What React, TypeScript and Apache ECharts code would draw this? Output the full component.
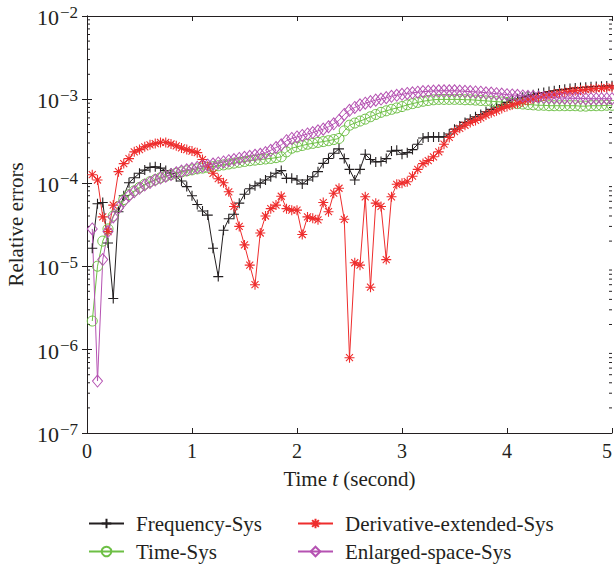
import React, { useEffect, useRef } from "react";
import * as echarts from "echarts";

const times: number[] = [
  0.05, 0.1, 0.15, 0.2, 0.25, 0.3, 0.35, 0.4, 0.45, 0.5,
  0.55, 0.6, 0.65, 0.7, 0.75, 0.8, 0.85, 0.9, 0.95, 1.0,
  1.05, 1.1, 1.15, 1.2, 1.25, 1.3, 1.35, 1.4, 1.45, 1.5,
  1.55, 1.6, 1.65, 1.7, 1.75, 1.8, 1.85, 1.9, 1.95, 2.0,
  2.05, 2.1, 2.15, 2.2, 2.25, 2.3, 2.35, 2.4, 2.45, 2.5,
  2.55, 2.6, 2.65, 2.7, 2.75, 2.8, 2.85, 2.9, 2.95, 3.0,
  3.05, 3.1, 3.15, 3.2, 3.25, 3.3, 3.35, 3.4, 3.45, 3.5,
  3.55, 3.6, 3.65, 3.7, 3.75, 3.8, 3.85, 3.9, 3.95, 4.0,
  4.05, 4.1, 4.15, 4.2, 4.25, 4.3, 4.35, 4.4, 4.45, 4.5,
  4.55, 4.6, 4.65, 4.7, 4.75, 4.8, 4.85, 4.9, 4.95, 5.0,
];

const frequencySys: number[] = [
  1.64e-5, 5.6e-5, 5.8e-5, 1.9e-5, 4.1e-6, 4.5e-5, 7.0e-5, 1.0e-4, 1.15e-4, 1.3e-4,
  1.42e-4, 1.53e-4, 1.56e-4, 1.5e-4, 1.4e-4, 1.3e-4, 1.18e-4, 1.05e-4, 9.0e-5, 7.0e-5,
  5.5e-5, 4.6e-5, 4.1e-5, 1.64e-5, 7.5e-6, 2.7e-5, 3.7e-5, 4.2e-5, 5.7e-5, 7.3e-5,
  8.5e-5, 9.2e-5, 9.9e-5, 1.08e-4, 1.18e-4, 1.3e-4, 1.4e-4, 1.13e-4, 1.13e-4, 1.08e-4,
  9.7e-5, 1.08e-4, 1.18e-4, 1.36e-4, 1.71e-4, 1.96e-4, 2.26e-4, 2.55e-4, 1.95e-4, 1.45e-4,
  1.08e-4, 1.45e-4, 2.2e-4, 1.9e-4, 1.78e-4, 1.8e-4, 1.95e-4, 2.4e-4, 2.45e-4, 2.2e-4,
  2.3e-4, 2.5e-4, 2.9e-4, 3.45e-4, 3.55e-4, 3.55e-4, 3.55e-4, 3.55e-4, 3.85e-4, 4.4e-4,
  4.8e-4, 5.3e-4, 5.8e-4, 6.2e-4, 6.6e-4, 7.1e-4, 7.6e-4, 8.1e-4, 8.6e-4, 9.2e-4,
  9.8e-4, 1.02e-3, 1.06e-3, 1.1e-3, 1.14e-3, 1.18e-3, 1.21e-3, 1.24e-3, 1.27e-3, 1.3e-3,
  1.32e-3, 1.35e-3, 1.37e-3, 1.39e-3, 1.4e-3, 1.42e-3, 1.43e-3, 1.44e-3, 1.45e-3, 1.46e-3,
];

const timeSys: number[] = [
  2.2e-6, 1.0e-5, 2.0e-5, 2.8e-5, 4.0e-5, 5.2e-5, 6.3e-5, 7.2e-5, 8.0e-5, 8.8e-5,
  9.6e-5, 1.03e-4, 1.09e-4, 1.15e-4, 1.2e-4, 1.25e-4, 1.3e-4, 1.35e-4, 1.39e-4, 1.43e-4,
  1.47e-4, 1.5e-4, 1.53e-4, 1.56e-4, 1.6e-4, 1.64e-4, 1.68e-4, 1.72e-4, 1.76e-4, 1.8e-4,
  1.84e-4, 1.87e-4, 1.9e-4, 1.93e-4, 1.96e-4, 2.0e-4, 2.05e-4, 2.35e-4, 2.6e-4, 2.7e-4,
  2.8e-4, 2.9e-4, 2.97e-4, 3.05e-4, 3.12e-4, 3.2e-4, 3.3e-4, 3.4e-4, 4.2e-4, 4.9e-4,
  5.2e-4, 5.5e-4, 5.8e-4, 6.2e-4, 6.6e-4, 7.0e-4, 7.3e-4, 7.6e-4, 7.9e-4, 8.2e-4,
  8.6e-4, 8.9e-4, 9.2e-4, 9.5e-4, 9.7e-4, 9.9e-4, 1.0e-3, 1.0e-3, 1.0e-3, 1.0e-3,
  1.0e-3, 9.9e-4, 9.9e-4, 9.8e-4, 9.7e-4, 9.6e-4, 9.5e-4, 9.4e-4, 9.3e-4, 9.2e-4,
  9.0e-4, 8.9e-4, 8.8e-4, 8.7e-4, 8.6e-4, 8.5e-4, 8.5e-4, 8.4e-4, 8.4e-4, 8.4e-4,
  8.4e-4, 8.4e-4, 8.4e-4, 8.3e-4, 8.3e-4, 8.4e-4, 8.4e-4, 8.4e-4, 8.5e-4, 8.5e-4,
];

const derivativeExtendedSys: number[] = [
  1.25e-4, 1.08e-4, 3.9e-5, 2.6e-5, 5.4e-5, 1.36e-4, 1.7e-4, 1.95e-4, 2.35e-4, 2.5e-4,
  2.7e-4, 2.85e-4, 2.95e-4, 3.05e-4, 3.05e-4, 2.92e-4, 2.78e-4, 2.62e-4, 2.5e-4, 2.4e-4,
  2.3e-4, 1.9e-4, 1.58e-4, 1.3e-4, 1.12e-4, 1.0e-4, 7.8e-5, 5.2e-5, 3.0e-5, 1.8e-5,
  1.03e-5, 6.0e-6, 2.5e-5, 4.0e-5, 4.9e-5, 5.4e-5, 6.9e-5, 4.9e-5, 4.7e-5, 4.7e-5,
  2.4e-5, 3.9e-5, 3.75e-5, 3.6e-5, 5.8e-5, 4.5e-5, 7.5e-5, 8.6e-5, 3.65e-5, 8.0e-7,
  1.1e-5, 1.03e-5, 6.8e-5, 5.6e-6, 5.7e-5, 5.2e-5, 1.2e-5, 6.8e-5, 9.6e-5, 9.9e-5,
  1.03e-4, 1.2e-4, 1.45e-4, 1.7e-4, 1.85e-4, 2.05e-4, 2.35e-4, 2.9e-4, 3.5e-4, 4.1e-4,
  4.5e-4, 4.9e-4, 5.3e-4, 5.6e-4, 6.0e-4, 6.5e-4, 6.9e-4, 7.3e-4, 7.8e-4, 8.2e-4,
  8.6e-4, 9.0e-4, 9.4e-4, 9.8e-4, 1.02e-3, 1.06e-3, 1.1e-3, 1.13e-3, 1.16e-3, 1.19e-3,
  1.22e-3, 1.25e-3, 1.27e-3, 1.29e-3, 1.31e-3, 1.33e-3, 1.35e-3, 1.36e-3, 1.38e-3, 1.4e-3,
];

const enlargedSpaceSys: number[] = [
  2.8e-5, 4.2e-7, 1.2e-5, 2.6e-5, 3.9e-5, 5.0e-5, 6.0e-5, 7.0e-5, 7.8e-5, 8.6e-5,
  9.4e-5, 1.01e-4, 1.08e-4, 1.14e-4, 1.2e-4, 1.26e-4, 1.32e-4, 1.38e-4, 1.43e-4, 1.48e-4,
  1.53e-4, 1.58e-4, 1.63e-4, 1.68e-4, 1.73e-4, 1.78e-4, 1.84e-4, 1.9e-4, 1.96e-4, 2.02e-4,
  2.08e-4, 2.14e-4, 2.2e-4, 2.3e-4, 2.45e-4, 2.65e-4, 2.85e-4, 3.2e-4, 3.4e-4, 3.55e-4,
  3.7e-4, 3.85e-4, 4.0e-4, 4.2e-4, 4.4e-4, 4.7e-4, 5.1e-4, 5.6e-4, 6.6e-4, 7.4e-4,
  8.0e-4, 8.6e-4, 9.0e-4, 9.4e-4, 9.8e-4, 1.01e-3, 1.05e-3, 1.09e-3, 1.12e-3, 1.15e-3,
  1.18e-3, 1.2e-3, 1.22e-3, 1.24e-3, 1.25e-3, 1.26e-3, 1.27e-3, 1.27e-3, 1.27e-3, 1.27e-3,
  1.26e-3, 1.25e-3, 1.24e-3, 1.23e-3, 1.22e-3, 1.2e-3, 1.19e-3, 1.17e-3, 1.16e-3, 1.14e-3,
  1.13e-3, 1.12e-3, 1.1e-3, 1.09e-3, 1.08e-3, 1.07e-3, 1.06e-3, 1.05e-3, 1.05e-3, 1.04e-3,
  1.04e-3, 1.03e-3, 1.03e-3, 1.03e-3, 1.02e-3, 1.02e-3, 1.02e-3, 1.02e-3, 1.02e-3, 1.02e-3,
];

const seriesNames: string[] = [
  "Frequency-Sys",
  "Time-Sys",
  "Derivative-extended-Sys",
  "Enlarged-space-Sys",
];

const xTickLabels: number[] = [0, 1, 2, 3, 4, 5];
const yDecades: number[] = [-7, -6, -5, -4, -3, -2];
const minorMultipliers: number[] = [2, 3, 4, 5, 6, 7, 8, 9];

const FONT = "'Liberation Serif', 'DejaVu Serif', serif";
const INK = "#231f20";

export default function App() {
  const ref = useRef<HTMLDivElement>(null);

  useEffect(() => {
    if (!ref.current) return;
    const chart = echarts.init(ref.current, null, { renderer: "svg" });

    const pair = (vals: number[]) => times.map((t, i) => [t, vals[i]]);

    const minorTicks: number[][] = [];
    yDecades.slice(0, -1).forEach((d) => {
      minorMultipliers.forEach((m) => minorTicks.push([0, m * Math.pow(10, d)]));
    });

    const plusPath = "path://M5,0L5,10M0,5L10,5";
    const starPath = "path://M5,0L5,10M0,5L10,5M1.5,1.5L8.5,8.5M1.5,8.5L8.5,1.5";

    const yLabel = (v: number) => {
      const e = Math.round(Math.log10(v));
      return `{b|10}{s|${e < 0 ? "\u2212" : ""}${Math.abs(e)}}`;
    };

    const legendPos = [
      { left: 88, top: 513 },
      { left: 88, top: 541 },
      { left: 297, top: 513 },
      { left: 297, top: 541 },
    ];

    const legends = seriesNames.map((n, i) => ({
      data: [n],
      left: legendPos[i].left,
      top: legendPos[i].top,
      padding: 0,
      itemWidth: 35,
      itemHeight: 12,
      textStyle: { fontSize: 21, fontFamily: FONT, color: INK, padding: [0, 0, 0, 7] },
    }));

    const option: any = {
      animation: false,
      backgroundColor: "#ffffff",
      grid: { left: 87, right: 2, top: 16, bottom: 134, outerBoundsMode: "none", containLabel: false },
      legend: legends,
      xAxis: [
        {
          type: "value",
          min: xTickLabels[0],
          max: xTickLabels[xTickLabels.length - 1],
          interval: 1,
          position: "bottom",
          axisLine: { show: true, lineStyle: { color: INK, width: 1 } },
          axisTick: { show: true, inside: true, length: 5, lineStyle: { color: INK } },
          axisLabel: { fontSize: 20, fontFamily: FONT, color: INK, margin: 8, alignMaxLabel: "right" },
          splitLine: { show: false },
          name: "{a|Time }{i|t}{a| (second)}",
          nameLocation: "middle",
          nameGap: 35,
          nameTextStyle: {
            rich: {
              a: { fontSize: 21, fontFamily: FONT, color: INK },
              i: { fontSize: 21, fontFamily: FONT, color: INK, fontStyle: "italic" },
            },
          },
        },
        {
          type: "value",
          min: 0,
          max: 5,
          interval: 1,
          position: "top",
          axisLine: { show: true, lineStyle: { color: INK, width: 1 } },
          axisTick: { show: true, inside: true, length: 5, lineStyle: { color: INK } },
          axisLabel: { show: false },
          splitLine: { show: false },
        },
      ],
      yAxis: [
        {
          type: "log",
          logBase: 10,
          min: 1e-7,
          max: 1e-2,
          splitNumber: 5,
          position: "left",
          axisLine: { show: true, lineStyle: { color: INK, width: 1 } },
          axisTick: { show: true, inside: true, length: 5, lineStyle: { color: INK } },
          axisLabel: {
            margin: 9,
            formatter: yLabel,
            rich: {
              b: { fontSize: 22, fontFamily: FONT, color: INK, verticalAlign: "bottom", lineHeight: 25 },
              s: { fontSize: 17, fontFamily: FONT, color: INK, verticalAlign: "top", lineHeight: 16, padding: [0, 0, 0, 1] },
            },
          },
          splitLine: { show: false },
          name: "Relative errors",
          nameLocation: "middle",
          nameGap: 60,
          nameRotate: 90,
          nameTextStyle: { fontSize: 21, fontFamily: FONT, color: INK },
        },
        {
          type: "log",
          logBase: 10,
          min: 1e-7,
          max: 1e-2,
          splitNumber: 5,
          position: "right",
          axisLine: { show: true, lineStyle: { color: INK, width: 1 } },
          axisTick: { show: true, inside: true, length: 5, lineStyle: { color: INK } },
          axisLabel: { show: false },
          splitLine: { show: false },
        },
      ],
      series: [
        {
          type: "custom",
          name: "minor-ticks",
          silent: true,
          xAxisIndex: 0,
          yAxisIndex: 0,
          clip: false,
          data: minorTicks,
          renderItem: (params: any, api: any) => {
            const pt = api.coord([0, api.value(1)]);
            const cs = params.coordSys;
            const st = { stroke: INK, lineWidth: 1 };
            return {
              type: "group",
              children: [
                { type: "line", shape: { x1: cs.x, y1: pt[1], x2: cs.x + 3, y2: pt[1] }, style: st },
                { type: "line", shape: { x1: cs.x + cs.width - 3, y1: pt[1], x2: cs.x + cs.width, y2: pt[1] }, style: st },
              ],
            };
          },
        },
        {
          type: "line",
          name: seriesNames[0],
          data: pair(frequencySys),
          symbol: plusPath,
          symbolSize: 10,
          showAllSymbol: true,
          lineStyle: { color: INK, width: 1 },
          itemStyle: { color: "transparent", borderColor: INK, borderWidth: 1.1 },
        },
        {
          type: "line",
          name: seriesNames[1],
          data: pair(timeSys),
          symbol: "circle",
          symbolSize: 10,
          showAllSymbol: true,
          lineStyle: { color: "#6dbf45", width: 1 },
          itemStyle: { color: "transparent", borderColor: "#6dbf45", borderWidth: 1 },
        },
        {
          type: "line",
          name: seriesNames[2],
          data: pair(derivativeExtendedSys),
          symbol: starPath,
          symbolSize: 10,
          showAllSymbol: true,
          lineStyle: { color: "#ee2d2d", width: 1 },
          itemStyle: { color: "transparent", borderColor: "#ee2d2d", borderWidth: 1.1 },
        },
        {
          type: "line",
          name: seriesNames[3],
          data: pair(enlargedSpaceSys),
          symbol: "diamond",
          symbolSize: [10, 12],
          showAllSymbol: true,
          lineStyle: { color: "#b552b2", width: 1 },
          itemStyle: { color: "transparent", borderColor: "#b552b2", borderWidth: 1 },
        },
      ],
    };

    chart.setOption(option);
    return () => chart.dispose();
  }, []);

  return (
    <div
      ref={ref}
      style={{ position: "fixed", left: 0, top: 0, width: 614, height: 567, background: "#fff" }}
    />
  );
}
